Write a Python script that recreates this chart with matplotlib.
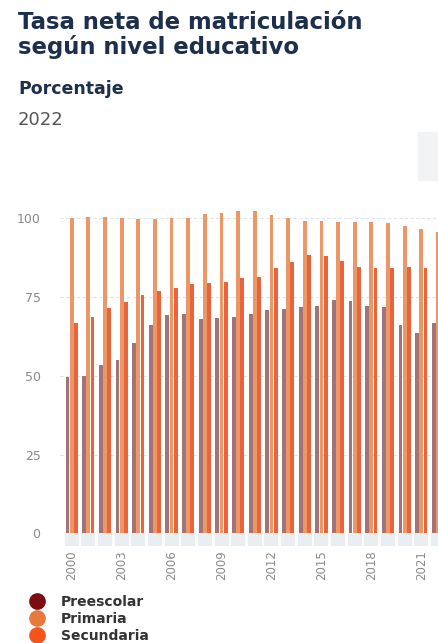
import matplotlib
matplotlib.use("Agg")
import matplotlib.pyplot as plt
from matplotlib.lines import Line2D
import numpy as np

plt.rcParams['font.family'] = ['DejaVu Sans']

years = list(range(2000, 2023))
preescolar = [49.5, 50.0, 53.5, 55.0, 60.5, 66.0, 69.4, 69.7, 68.1, 68.4, 68.6, 69.7,
              71.0, 71.3, 71.8, 72.2, 74.0, 73.6, 72.2, 71.8, 66.0, 63.6, 66.7]
primaria = [100.0, 100.4, 100.4, 100.0, 99.7, 99.7, 100.0, 100.0, 101.3, 101.6, 102.4, 102.4,
            100.9, 100.0, 99.0, 99.3, 98.8, 98.8, 98.8, 98.6, 97.7, 96.6, 95.8]
secundaria = [66.7, 68.6, 71.5, 73.4, 75.7, 76.8, 78.0, 79.1, 79.5, 79.8, 80.9, 81.4,
              84.3, 86.2, 88.5, 88.1, 86.5, 84.6, 84.1, 84.3, 84.6, 84.3, 84.0]
series_names = ["Preescolar", "Primaria", "Secundaria"]
legend_colors = ["#7a0c12", "#e8793e", "#f5541c"]
bar_colors = ["#a27377", "#eb9866", "#e9643a"]

W, H = 438, 643
fig = plt.figure(figsize=(W / 100, H / 100), dpi=100)

# axes placement (pixels)
left_px, right_px = 60, 438
zero_px, unit_px = 533.4, 3.151
ymax = 110
ax = fig.add_axes([left_px / W, (H - zero_px) / H, (right_px - left_px) / W, ymax * unit_px / H])

x = np.arange(len(years))
bw = 0.25
for i, (vals, col) in enumerate(zip([preescolar, primaria, secundaria], bar_colors)):
    ax.bar(x + (i - 1) * bw, vals, width=bw * 0.92, color=col, linewidth=0, zorder=3)

ax.set_xlim(-0.70, 21.97)
ax.set_ylim(0, ymax)
ax.set_yticks([0, 25, 50, 75, 100])
ax.yaxis.grid(True, color="#e3e3e3", linestyle=(0, (3, 2)), linewidth=0.8, zorder=0)
ax.tick_params(axis='y', length=0, pad=14, labelsize=9, labelcolor="#8a8a8a")

ax.set_xticks(x)
ax.set_xticklabels([str(y) if (y - years[0]) % 3 == 0 else "" for y in years], rotation=90)
ax.tick_params(axis='x', length=9, width=10.2, color="#e9eef3", direction='out',
               pad=3, labelsize=8.5, labelcolor="#8a8a8a")

for s in ax.spines.values():
    s.set_visible(False)

# titles
navy = "#1c2f4d"
fig.text(18 / W, 1 - 11 / H, "Tasa neta de matriculación\nsegún nivel educativo",
         fontsize=16.4, fontweight='bold', color=navy, va='top', ha='left', linespacing=1.05)
fig.text(18 / W, 1 - 80 / H, "Porcentaje", fontsize=12.5, fontweight='bold', color=navy,
         va='top', ha='left')
fig.text(18 / W, 1 - 111 / H, "2022", fontsize=13, color="#555555", va='top', ha='left')

# grey button remnant at the top right
fig.patches.append(plt.Rectangle((418 / W, 1 - 180 / H), 20 / W, 48 / H,
                                 transform=fig.transFigure, color="#f2f3f5", zorder=0))

handles = [Line2D([], [], marker='o', linestyle='none', markersize=11,
                  markerfacecolor=c, markeredgecolor=c) for c in legend_colors]
leg = fig.legend(handles, series_names, loc='upper left', bbox_to_anchor=(30 / W, 1 - 595 / H),
                 frameon=False, fontsize=10, labelspacing=0.2, handletextpad=1.2,
                 handlelength=1.0, borderpad=0, borderaxespad=0)
for t in leg.get_texts():
    t.set_fontweight('bold')
    t.set_color("#333333")

fig.savefig("out.png", dpi=100)
